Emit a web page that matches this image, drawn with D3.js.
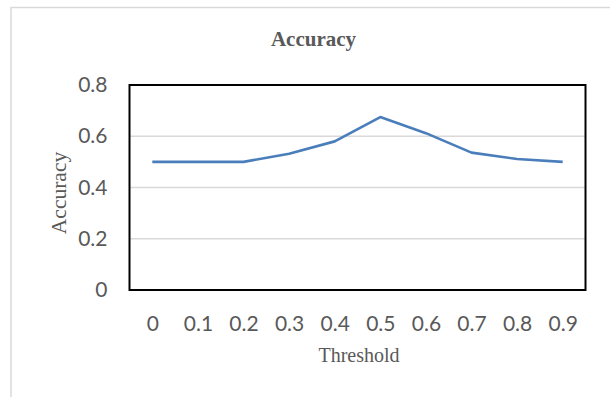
<!DOCTYPE html>
<html><head><meta charset="utf-8">
<script src="https://cdn.jsdelivr.net/npm/d3@7"></script>
<style>body{margin:0;background:#fff}svg{display:block}</style>
</head><body>
<svg id="c" width="610" height="397"></svg>
<script>
const categories = ["0","0.1","0.2","0.3","0.4","0.5","0.6","0.7","0.8","0.9"];
const accuracy = [0.5,0.5,0.5,0.532,0.58,0.675,0.612,0.536,0.511,0.5];
const yTicks = [0,0.2,0.4,0.6,0.8];
const yTickLabels = ["0","0.2","0.4","0.6","0.8"];

const svg = d3.select("#c");
const L=129.5,R=585.5,T=85,B=290;
svg.append("rect").attr("x",11).attr("y",7.5).attr("width",640).attr("height",420)
  .attr("fill","#fff").attr("stroke","#d9d9d9").attr("stroke-width",1.5);

const x = d3.scalePoint().domain(categories).range([L,R]).padding(0.5);
const y = d3.scaleLinear().domain([0,0.8]).range([B,T]);

// gridlines
svg.append("g").selectAll("line").data(yTicks.slice(1,-1)).join("line")
  .attr("x1",L).attr("x2",R).attr("y1",d=>y(d)).attr("y2",d=>y(d))
  .attr("stroke","#d9d9d9").attr("stroke-width",1.3);

const tickFont = "Lato, 'Open Sans', sans-serif";
// y axis labels
const ya = svg.append("g").attr("transform",`translate(${L},0)`)
  .call(d3.axisLeft(y).tickValues(yTicks).tickFormat((d,i)=>yTickLabels[i]).tickSize(0).tickPadding(22));
ya.select(".domain").remove();
ya.selectAll("text").attr("font-family",tickFont).attr("font-size",21).attr("fill","#595959");

// x axis labels
const xa = svg.append("g").attr("transform",`translate(0,${B})`)
  .call(d3.axisBottom(x).tickSize(0).tickPadding(26));
xa.select(".domain").remove();
xa.selectAll("text").attr("font-family",tickFont).attr("font-size",21).attr("fill","#595959");

// plot border
svg.append("rect").attr("x",L).attr("y",T).attr("width",R-L).attr("height",B-T)
  .attr("fill","none").attr("stroke","#000").attr("stroke-width",2);

// line
svg.append("path").datum(accuracy)
  .attr("d",d3.line().x((d,i)=>x(categories[i])).y(d=>y(d)))
  .attr("fill","none").attr("stroke","#4a7ebb").attr("stroke-width",2.6).attr("stroke-linejoin","round");

// titles
const serif = "'Liberation Serif', 'Times New Roman', serif";
svg.append("text").attr("x",313.5).attr("y",46).attr("text-anchor","middle")
  .attr("font-family",serif).attr("font-weight","bold")
  .attr("font-size",21).attr("fill","#595959").text("Accuracy");
svg.append("text").attr("x",359).attr("y",362).attr("text-anchor","middle")
  .attr("font-family",serif)
  .attr("font-size",20).attr("fill","#595959").text("Threshold");
svg.append("text").attr("transform",`translate(66,193) rotate(-90)`).attr("text-anchor","middle")
  .attr("font-family",serif)
  .attr("font-size",21.5).attr("fill","#595959").text("Accuracy");
</script>
</body></html>
